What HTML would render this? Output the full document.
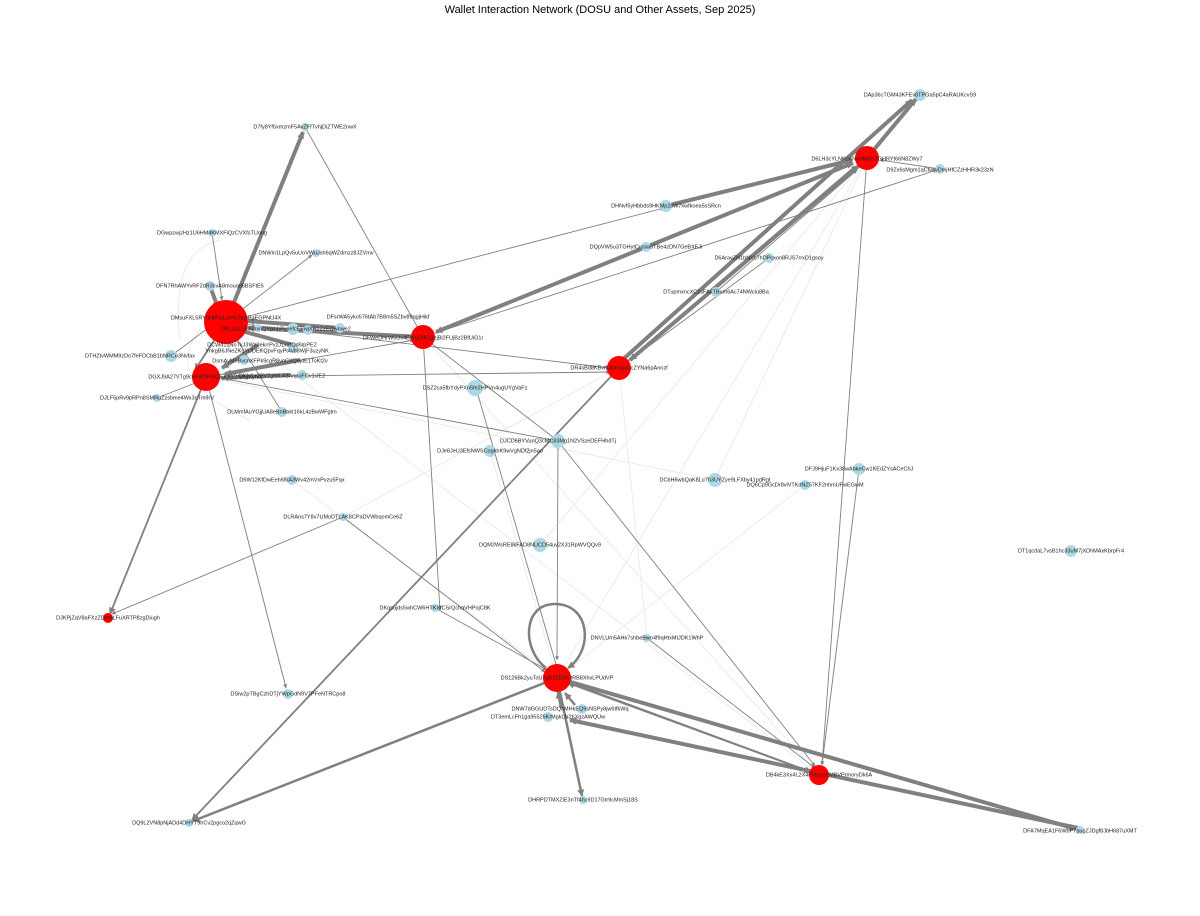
<!DOCTYPE html>
<html><head><meta charset="utf-8"><style>
html,body{margin:0;padding:0;background:#fff;}
svg{display:block;}
text{font-family:"Liberation Sans",sans-serif;}
.l{font-size:5.5px;fill:#222;text-anchor:middle;dominant-baseline:middle;}
</style></head><body>
<svg width="1200" height="916" viewBox="0 0 1200 916" xmlns="http://www.w3.org/2000/svg">
<defs>
<marker id="a" viewBox="0 0 10 10" refX="9" refY="5" markerWidth="5" markerHeight="4" markerUnits="userSpaceOnUse" orient="auto"><path d="M0,0L10,5L0,10z" fill="#808080"/></marker>
<marker id="b" viewBox="0 0 10 10" refX="9" refY="5" markerWidth="9" markerHeight="7" markerUnits="userSpaceOnUse" orient="auto"><path d="M0,0L10,5L0,10z" fill="#808080"/></marker>
</defs>
<text x="600" y="13" font-size="11" text-anchor="middle" fill="#000">Wallet Interaction Network (DOSU and Other Assets, Sep 2025)</text>
<g stroke="#e4e4e4" stroke-width="0.7" fill="none">
<line x1="226" y1="322" x2="819" y2="775"/><line x1="206" y1="377" x2="715" y2="480"/>
<line x1="423" y1="337" x2="819" y2="775"/><line x1="867" y1="158" x2="557" y2="678"/>
<line x1="619" y1="368" x2="647" y2="638"/><line x1="867" y1="158" x2="715" y2="480"/>
<line x1="343" y1="517" x2="619" y2="368"/><line x1="490" y1="451" x2="557" y2="678"/>
<line x1="292" y1="480" x2="557" y2="678"/><line x1="206" y1="377" x2="288" y2="694"/>
<line x1="540" y1="545" x2="867" y2="158"/><line x1="805" y1="485" x2="557" y2="678"/>
<path d="M200 330 Q160 380 250 420"/><path d="M180 340 Q170 250 220 240"/>
</g>
<g stroke="#808080" fill="none" stroke-width="0.9" marker-end="url(#a)">
<line x1="226" y1="322" x2="664" y2="208"/>
<line x1="226" y1="322" x2="312" y2="255"/>
<line x1="423" y1="337" x2="937" y2="170"/>
<line x1="619" y1="368" x2="855" y2="166"/>
<line x1="716" y1="292" x2="857" y2="170"/>
<line x1="769" y1="258" x2="619" y2="368"/>
<line x1="940" y1="169" x2="880" y2="160"/>
<line x1="305" y1="127" x2="423" y2="337"/>
<line x1="476" y1="388" x2="557" y2="668"/>
<line x1="558" y1="441" x2="220" y2="378"/>
<line x1="558" y1="441" x2="557" y2="660"/>
<line x1="558" y1="441" x2="815" y2="766"/>
<line x1="423" y1="337" x2="558" y2="441"/>
<line x1="226" y1="322" x2="610" y2="368"/>
<line x1="859" y1="469" x2="822" y2="765"/>
<line x1="867" y1="158" x2="822" y2="765"/>
<line x1="435" y1="608" x2="547" y2="670"/>
<line x1="343" y1="517" x2="545" y2="672"/>
<line x1="647" y1="638" x2="815" y2="768"/>
<line x1="212" y1="233" x2="222" y2="300"/>
<line x1="157" y1="398" x2="198" y2="382"/>
<line x1="171" y1="356" x2="212" y2="325"/>
<line x1="282" y1="412" x2="236" y2="338"/>
<line x1="343" y1="517" x2="112" y2="614"/>
<line x1="206" y1="377" x2="286" y2="688"/>
<line x1="206" y1="377" x2="414" y2="340"/>
<line x1="206" y1="377" x2="610" y2="372"/>
<line x1="423" y1="337" x2="440" y2="610"/>
</g>
<g stroke="#808080" fill="none" stroke-width="1.8" marker-end="url(#b)">
<line x1="619" y1="368" x2="192" y2="820"/>
<line x1="557" y1="678" x2="811" y2="772"/>
<line x1="819" y1="775" x2="568" y2="683"/>
<line x1="206" y1="377" x2="110" y2="614"/>
<line x1="226" y1="322" x2="195" y2="370"/>
</g>
<g stroke="#808080" fill="none" stroke-width="2.5" marker-end="url(#b)">
<line x1="557" y1="678" x2="193" y2="821"/>
<line x1="557" y1="678" x2="582" y2="796"/>
<line x1="561" y1="708" x2="558" y2="692"/>
<line x1="575" y1="705" x2="565" y2="693"/>
<path d="M546 668 C522 650 522 604 555 604 C590 604 594 650 568 668"/>
</g>
<g stroke="#808080" fill="none" stroke-width="4" marker-end="url(#b)">
<line x1="226" y1="322" x2="303" y2="132"/>
<line x1="210" y1="286" x2="218" y2="308"/>
<line x1="867" y1="158" x2="916" y2="99"/>
<line x1="620" y1="362" x2="912" y2="100"/>
<line x1="862" y1="163" x2="630" y2="360"/>
<line x1="666" y1="206" x2="852" y2="160"/>
<line x1="646" y1="247" x2="853" y2="163"/>
<line x1="646" y1="247" x2="436" y2="332"/>
<line x1="340" y1="328" x2="248" y2="321"/>
<line x1="423" y1="337" x2="248" y2="328"/>
<line x1="557" y1="678" x2="1076" y2="829"/>
<line x1="1078" y1="828" x2="570" y2="720"/>
<line x1="293" y1="345" x2="238" y2="330"/>
<line x1="258" y1="345" x2="222" y2="368"/>
<line x1="300" y1="360" x2="225" y2="374"/>
<line x1="290" y1="375" x2="222" y2="378"/>
</g>
<g fill="#add8e6">
<circle cx="920" cy="95" r="6"/><circle cx="940" cy="169" r="5"/><circle cx="666" cy="206" r="6"/>
<circle cx="646" cy="247" r="5"/><circle cx="769" cy="258" r="5"/><circle cx="716" cy="292" r="5"/>
<circle cx="305" cy="127" r="4"/><circle cx="212" cy="233" r="4"/><circle cx="316" cy="253" r="4"/>
<circle cx="210" cy="286" r="5"/><circle cx="340" cy="328" r="5"/><circle cx="308" cy="330" r="5"/>
<circle cx="258" cy="328" r="4"/><circle cx="293" cy="329" r="6"/><circle cx="171" cy="356" r="6"/>
<circle cx="157" cy="398" r="4"/><circle cx="282" cy="412" r="5"/><circle cx="475" cy="388" r="8"/>
<circle cx="558" cy="441" r="7"/><circle cx="490" cy="451" r="6"/><circle cx="292" cy="480" r="5"/>
<circle cx="343" cy="517" r="4"/><circle cx="540" cy="545" r="7"/><circle cx="715" cy="480" r="7"/>
<circle cx="859" cy="469" r="6"/><circle cx="805" cy="485" r="5"/><circle cx="1071" cy="551" r="6"/>
<circle cx="435" cy="608" r="4"/><circle cx="647" cy="638" r="4"/><circle cx="288" cy="694" r="5"/>
<circle cx="582" cy="709" r="5"/><circle cx="548" cy="717" r="5"/><circle cx="583" cy="800" r="4"/>
<circle cx="189" cy="823" r="4"/><circle cx="1080" cy="830" r="4"/><circle cx="244" cy="360" r="5"/>
<circle cx="302" cy="375" r="5"/><circle cx="293" cy="348" r="5"/>
</g>
<g fill="#ff0000">
<circle cx="226" cy="322" r="22"/><circle cx="206" cy="377" r="14"/><circle cx="423" cy="337" r="12"/>
<circle cx="867" cy="158" r="12"/><circle cx="619" cy="368" r="12"/><circle cx="557" cy="678" r="14"/>
<circle cx="819" cy="775" r="10"/><circle cx="108" cy="618" r="5"/>
</g>
<g class="l">
<text x="920" y="95">DAp36cTGM43KFEv8TPGa5pC4aRAUKcvS9</text>
<text x="867" y="159">D6LH3cYLNKcKNuHMUsZGHRYt66N8ZWy7</text>
<text x="940" y="170">D9Zx6sMgm1qCtwrvDmjHfCZzHHR3k23zN</text>
<text x="666" y="206">DHNvf5yHbbds9HKMp2sW7xwfkoea5sSRcn</text>
<text x="646" y="247">DQpVW5u3TGHytCrsswbTBe4zDN7GeBXEJi</text>
<text x="769" y="258">D6AravZN1bNVc7hDPcxon8RJS7rrxD1gsoy</text>
<text x="716" y="292">DTupmxncXC1sFAxTBum6Ac74NWciu8Ba</text>
<text x="305" y="127">D7fy8Yf5xmzmF5AvZFfTvhjDiZTWE2nwX</text>
<text x="212" y="233">DGwpzwjzHz1U6HM4KMXFiQzCVXfsTUoog</text>
<text x="316" y="253">DNWin1LpQv5uUoVWuJsh6qWZdmzz8JZVmv</text>
<text x="210" y="286">DFN7RhAWYvRF2dR3cvA8mouqd6BSFtE5</text>
<text x="226" y="318">DMsuFXL5RYhH8RuLomV7tqyBgEGPNtJ4X</text>
<text x="378" y="317">DFsrWA5yko576tAb7B8m5SZbv89qgjHikf</text>
<text x="286" y="329">DKLa2LLRXmvnQYjkhbPyyefcEFwjXR2ZzEQwnwe2</text>
<text x="423" y="338">DFWeDHrW5Dx4EWyDHCQzjBl2FUjBz2BfUiG1r</text>
<text x="619" y="368">DR4sBd8KBvfkJDrmgaLcZYNa6pAnozf</text>
<text x="262" y="345">DCWd1qNoTkJ3Wa3ekrrPvzJ1x3fQd6tpPE2</text>
<text x="267" y="351">YnkgB6JNeZKqYUDEKQpvFqyPt4vb8WjF3uzyNK</text>
<text x="140" y="356">DTHZtvWMM9zDo7feFDCbB1bNRCo3Nvfax</text>
<text x="206" y="377">DGXJ9A27VTg9ceFWSPGQnJUGDNRgXyhoc</text>
<text x="282" y="376">DKfy1e2PV7gNtLA3AnpoFCv1iJE2</text>
<text x="270" y="361">DsmAyMnBvcnXFPk9cgR8vnCXQejdE1ToKt2v</text>
<text x="157" y="398">DJLF5pRv9pRPn8SMRuZzsbme4Wx3cTm9rV</text>
<text x="282" y="412">DLMmfAuYGjjUA8eBnBbkt16kL4zBwWFgtm</text>
<text x="475" y="388">DSZ2ca5fbYdyPXn5fe2HPVn4ugUYgVaFz</text>
<text x="558" y="441">DJCD6BYVunQ3cMC83Mg1N2VSzeDEFHhdTj</text>
<text x="490" y="451">DJe8JeU3EfsNWSCogkbK9wVgNDf2jn5ao</text>
<text x="292" y="480">D6W12KfDwEeh6f6A3Wv42mVxPvzu5Fqx</text>
<text x="343" y="517">DLRAns7Y8v7UMoDTLAK8CPaDVWbqomCe6Z</text>
<text x="540" y="545">DQM2WsRE8kFAD8NUCD54uv2X31RpWVQQv9</text>
<text x="715" y="480">DCbH6wbQaK8Lu7h3UYZye9LFXby41pdRgt</text>
<text x="859" y="469">DFJ9HjuF1Kx38wAbkeCw1KEdZYsACeChJ</text>
<text x="805" y="485">DQ6Cp9GcDr8vlVTKdNZ57KF2nhmUFwEGwM</text>
<text x="1071" y="551">DT1qcdaL7vsB1hc33uM7jXDhMAxKbrpFr4</text>
<text x="108" y="618">DJKPjZqV8aFXzZDcNiLFuXRTP8zgDiugh</text>
<text x="435" y="608">DKqsujds5whCW6HTKXfCSrQchqVHPojC8K</text>
<text x="647" y="638">DNVLUm5AHk7shbeBwo4f9qHtxMtJDK1WhP</text>
<text x="557" y="678">DS126Bk2yuToU7gE3ZDNCtRB8XhxLPUdVP</text>
<text x="288" y="694">DSiw2pTBgCzhDTjYWpGdN9V7PFeNTRCpo8</text>
<text x="570" y="709">DNW7dGGUDTsDQoMHkEQ9sNSPy8jw6tfkWq</text>
<text x="548" y="717">DT3emLcFh1ga95525KrMgkLN26XgzAWQUw</text>
<text x="583" y="800">DHRPDTMXZiE3nTf4hc9D17Gtr9cMmSj18S</text>
<text x="189" y="823">DQ9L2VN8pNjADd4DHYT9hCv2pgco2qZqwG</text>
<text x="819" y="775">DB4kE3Xx4L2X4PMpzeEMBVPrmoryDk6A</text>
<text x="1080" y="831">DFA7MqEA1F6WbP7pugZJDgf8JbH687uXMT</text>
</g>
</svg>
</body></html>
